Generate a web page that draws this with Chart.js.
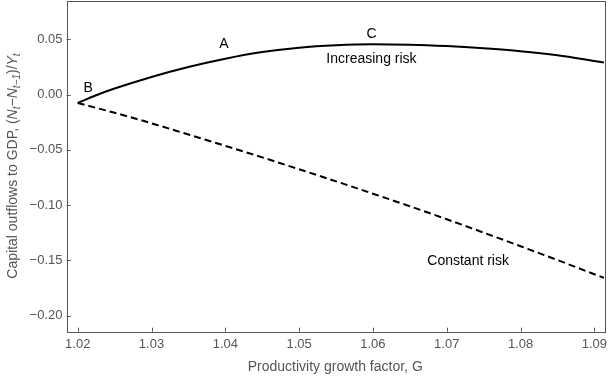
<!DOCTYPE html>
<html>
<head>
<meta charset="utf-8">
<script src="https://cdn.jsdelivr.net/npm/chart.js@4/dist/chart.umd.min.js"></script>
<style>
html,body{margin:0;padding:0;background:#fff;}
#wrap{width:612px;height:378px;}
</style>
</head>
<body>
<div id="wrap"><canvas id="c" width="612" height="378"></canvas></div>
<script>
// Data
const gIncreasing = [1.02, 1.0225, 1.025, 1.03, 1.035, 1.04, 1.045, 1.05, 1.055, 1.06, 1.065, 1.07, 1.075, 1.08, 1.085, 1.09, 1.0913];
const increasingRisk = [-0.0076, -0.0006, 0.0054, 0.0159, 0.0249, 0.0324, 0.0384, 0.0424, 0.0446, 0.0455, 0.0451, 0.0438, 0.0418, 0.0392, 0.0355, 0.0303, 0.0289];
const gConstant = [1.02, 1.025, 1.03, 1.035, 1.04, 1.045, 1.05, 1.055, 1.06, 1.065, 1.07, 1.075, 1.08, 1.085, 1.09, 1.0913];
const constantRisk = [-0.0077, -0.0165, -0.0260, -0.0362, -0.0464, -0.0568, -0.0676, -0.0785, -0.0897, -0.1010, -0.1128, -0.1249, -0.1372, -0.1497, -0.1625, -0.1658];
const xTicks = [1.02, 1.03, 1.04, 1.05, 1.06, 1.07, 1.08, 1.09];
const yTicks = [-0.20, -0.15, -0.10, -0.05, 0.00, 0.05];
const annotations = [
  {text: 'A', x: 1.0398, y: 0.0455},
  {text: 'B', x: 1.0214, y: 0.0057},
  {text: 'C', x: 1.0598, y: 0.0545},
  {text: 'Increasing risk', x: 1.0598, y: 0.0316},
  {text: 'Constant risk', x: 1.0729, y: -0.1504}
];

const FONT = '"Liberation Sans", Arial, Helvetica, sans-serif';
const GRAY = '#555555';

const framePlugin = {
  id: 'frame',
  afterDraw(chart) {
    const ctx = chart.ctx, a = chart.chartArea;
    const xs = chart.scales.x, ys = chart.scales.y;
    ctx.save();
    ctx.strokeStyle = GRAY;
    ctx.lineWidth = 1;
    ctx.strokeRect(Math.round(a.left) + 0.5, Math.round(a.top) + 0.5, Math.round(a.right - a.left), Math.round(a.bottom - a.top));
    ctx.beginPath();
    xTicks.forEach(v => {
      const px = Math.round(xs.getPixelForValue(v)) + 0.5;
      ctx.moveTo(px, a.bottom);
      ctx.lineTo(px, a.bottom - 4);
    });
    yTicks.forEach(v => {
      const py = Math.round(ys.getPixelForValue(v)) + 0.5;
      ctx.moveTo(a.left, py);
      ctx.lineTo(a.left + 4, py);
    });
    ctx.stroke();
    // annotations
    ctx.fillStyle = '#000';
    ctx.font = '14px ' + FONT;
    ctx.textAlign = 'center';
    ctx.textBaseline = 'middle';
    annotations.forEach(an => {
      ctx.fillText(an.text, xs.getPixelForValue(an.x), ys.getPixelForValue(an.y));
    });
    // y axis title with subscripts
    const parts = [
      {t: 'Capital outflows to GDP, (', f: '14px', sub: false},
      {t: 'N', f: 'italic 14px', sub: false},
      {t: 't', f: 'italic 10px', sub: true},
      {t: '\u2212', f: '14px', sub: false},
      {t: 'N', f: 'italic 14px', sub: false},
      {t: 't\u22121', f: 'italic 10px', sub: true},
      {t: ')/', f: '14px', sub: false},
      {t: 'Y', f: 'italic 14px', sub: false},
      {t: 't', f: 'italic 10px', sub: true}
    ];
    let total = 0;
    parts.forEach(p => { ctx.font = p.f + ' ' + FONT; p.w = ctx.measureText(p.t).width; total += p.w; });
    ctx.translate(17, 166);
    ctx.rotate(-Math.PI / 2);
    ctx.fillStyle = GRAY;
    ctx.textAlign = 'left';
    ctx.textBaseline = 'alphabetic';
    let x = -total / 2;
    parts.forEach(p => {
      ctx.font = p.f + ' ' + FONT;
      ctx.fillText(p.t, x, p.sub ? 3 : 0);
      x += p.w;
    });
    ctx.restore();
  }
};

new Chart(document.getElementById('c'), {
  type: 'line',
  data: {
    datasets: [
      {
        label: 'Increasing risk',
        data: gIncreasing.map((g, i) => ({x: g, y: increasingRisk[i]})),
        borderColor: '#000',
        borderWidth: 2,
        pointRadius: 0,
        cubicInterpolationMode: 'monotone',
        fill: false
      },
      {
        label: 'Constant risk',
        data: gConstant.map((g, i) => ({x: g, y: constantRisk[i]})),
        borderColor: '#000',
        borderWidth: 2,
        borderDash: [7, 4],
        pointRadius: 0,
        cubicInterpolationMode: 'monotone',
        fill: false
      }
    ]
  },
  options: {
    responsive: false,
    animation: false,
    devicePixelRatio: 1,
    layout: {padding: {top: 1, right: 8, left: 0, bottom: 0}},
    plugins: {legend: {display: false}, tooltip: {enabled: false}},
    scales: {
      x: {
        type: 'linear',
        min: 1.01848,
        max: 1.09131,
        grid: {display: false, drawTicks: false},
        border: {display: false},
        afterBuildTicks(s) { s.ticks = xTicks.map(v => ({value: v})); },
        afterFit(s) { s.height = 46.3; s.paddingLeft = 0; s.paddingRight = 0; },
        ticks: {
          color: GRAY,
          font: {family: FONT, size: 13},
          padding: 5,
          maxRotation: 0,
          callback: v => v.toFixed(2)
        },
        title: {
          display: true,
          text: 'Productivity growth factor, G',
          color: GRAY,
          font: {family: FONT, size: 14},
          padding: {top: 4, bottom: 2}
        }
      },
      y: {
        type: 'linear',
        min: -0.2145,
        max: 0.0846,
        grid: {display: false, drawTicks: false},
        border: {display: false},
        afterBuildTicks(s) { s.ticks = yTicks.map(v => ({value: v})); },
        afterFit(s) { s.width = 66.5; s.paddingTop = 0; s.paddingBottom = 0; },
        ticks: {
          color: GRAY,
          font: {family: FONT, size: 13},
          padding: 4,
          callback: v => (Math.abs(v) < 1e-9 ? '0.00' : v.toFixed(2).replace('-', '\u2212'))
        }
      }
    }
  },
  plugins: [framePlugin]
});
</script>
</body>
</html>
